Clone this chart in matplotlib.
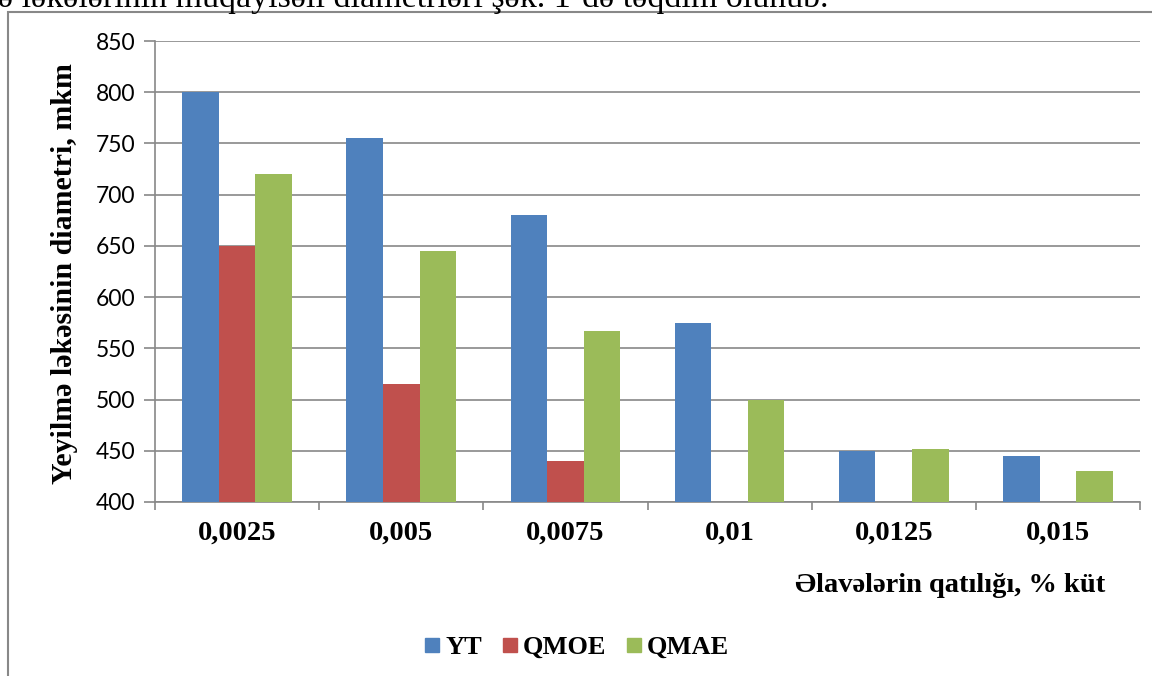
import numpy as np
import matplotlib.pyplot as plt
from matplotlib.patches import Rectangle
from matplotlib.lines import Line2D

# data
categories = ['0,0025', '0,005', '0,0075', '0,01', '0,0125', '0,015']
yt = [800, 755, 680, 575, 450, 445]
qmoe = [650, 515, 440, 0, 0, 0]
qmae = [720, 645, 567, 500, 452, 430]
series_names = ['YT', 'QMOE', 'QMAE']
colors = ['#4F81BD', '#C0504D', '#9BBB59']

serif = 'Liberation Serif'
sans = 'Lato'

fig = plt.figure(figsize=(11.52, 6.76), dpi=100)
W, H = 1152, 676
# plot area in pixels: x 155..1140, y 41..502
ax = fig.add_axes([155 / W, 1 - 502 / H, (1140 - 155) / W, (502 - 41) / H])

x = np.arange(len(categories))
bw = 0.223
for i, (vals, col) in enumerate(zip([yt, qmoe, qmae], colors)):
    ax.bar(x + (i - 1) * bw, vals, bw, color=col, zorder=3)

ax.set_xlim(-0.5, len(categories) - 0.5)
ax.set_ylim(400, 850)
ax.set_yticks(np.arange(400, 851, 50))
ax.yaxis.grid(True, color='#888888', linewidth=1.2, zorder=0)
ax.set_axisbelow(True)

for s in ['top', 'right']:
    ax.spines[s].set_visible(False)
ax.spines['left'].set_color('#888888')
ax.spines['bottom'].set_color('#888888')
ax.spines['left'].set_linewidth(1.2)
ax.spines['bottom'].set_linewidth(1.2)

ax.set_xticks(np.arange(-0.5, len(categories), 1.0))
ax.set_xticklabels([])
ax.tick_params(axis='x', length=6, width=1.2, color='#888888')
for i, c in enumerate(categories):
    ax.text(i, -0.068, c, transform=ax.get_xaxis_transform(), ha='center', va='center',
            fontsize=20.5, fontweight='bold', family=serif)
ax.tick_params(axis='y', length=8, width=1.2, color='#888888', labelsize=16.5, pad=6)
for t in ax.get_yticklabels():
    t.set_fontfamily(sans)

fig.text(1105 / W, 1 - 585 / H, 'Əlavələrin qatılığı, % küt', ha='right', va='center',
         fontsize=20.5, fontweight='bold', family=serif)
fig.text(65 / W, 1 - 274 / H, 'Yeyilmə ləkəsinin diametri, mkm', rotation=90,
         ha='center', va='center', fontsize=21.5, fontweight='bold', family=serif)

handles = [Line2D([], [], marker='s', linestyle='none', markersize=10,
                  markerfacecolor=c, markeredgecolor=c) for c in colors]
leg = fig.legend(handles, series_names, loc='center', bbox_to_anchor=(576 / W, 1 - 647 / H),
                 ncol=3, frameon=False, handlelength=0.7, handletextpad=0.15,
                 columnspacing=0.7,
                 prop={'family': serif, 'weight': 'bold', 'size': 19})

# outer frame of the embedded chart
fig.add_artist(Rectangle((8 / W, -0.1), 1.2, 1 - 12 / H + 0.1, transform=fig.transFigure,
                         fill=False, edgecolor='#888888', linewidth=1.5))

# cut-off line of text above the chart
fig.text(-2 / W, 1 - 7 / H, 'ə ləkələrinin müqayisəli diametrləri şək. 1-də təqdim olunub.',
         ha='left', va='baseline', fontsize=24.5, family=serif)

fig.savefig('out.png', dpi=100)
